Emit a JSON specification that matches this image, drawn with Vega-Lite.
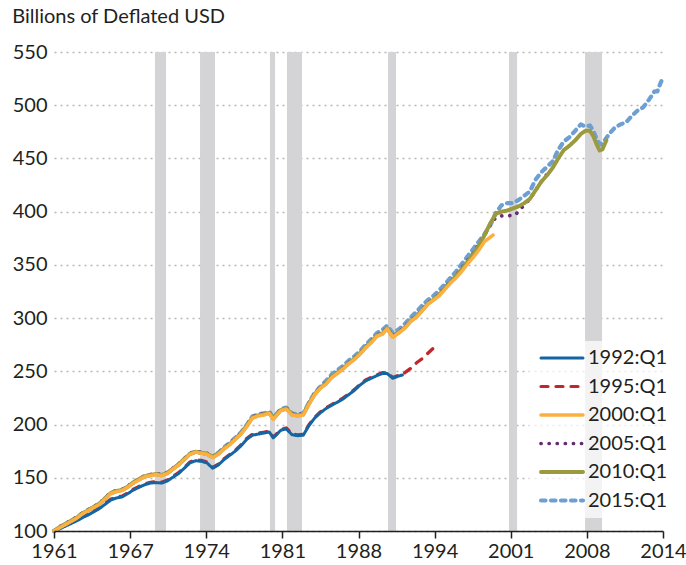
{
  "$schema": "https://vega.github.io/schema/vega-lite/v6.json",
  "width": 609,
  "height": 479,
  "autosize": "none",
  "padding": {"left": 54, "top": 52, "right": 23, "bottom": 34},
  "background": "white",
  "title": {"text": "Billions of Deflated USD", "anchor": "start", "frame": "bounds", "fontSize": 20, "fontWeight": "normal", "color": "#231f20", "offset": 15},
  "datasets": {
    "rec": [
      {"a": 1969.91, "b": 1970.89},
      {"a": 1973.89, "b": 1975.21},
      {"a": 1980.06, "b": 1980.51},
      {"a": 1981.56, "b": 1982.89},
      {"a": 1990.48, "b": 1991.19},
      {"a": 2001.16, "b": 2001.87},
      {"a": 2007.87, "b": 2009.37}
    ],
    "lines": [
      {"s":"1995:Q1","t":1961,"v":100},{"s":"1995:Q1","t":1961.5,"v":102.8},{"s":"1995:Q1","t":1962,"v":105.3},{"s":"1995:Q1","t":1962.5,"v":107.8},{"s":"1995:Q1","t":1963,"v":110.3},{"s":"1995:Q1","t":1963.5,"v":113.3},{"s":"1995:Q1","t":1964,"v":115.8},{"s":"1995:Q1","t":1964.5,"v":118.8},{"s":"1995:Q1","t":1965,"v":121.8},{"s":"1995:Q1","t":1965.5,"v":125.8},{"s":"1995:Q1","t":1966,"v":129.8},{"s":"1995:Q1","t":1966.5,"v":131.8},{"s":"1995:Q1","t":1967,"v":132.8},{"s":"1995:Q1","t":1967.5,"v":135.8},{"s":"1995:Q1","t":1968,"v":139.3},{"s":"1995:Q1","t":1968.5,"v":141.8},{"s":"1995:Q1","t":1969,"v":144.3},{"s":"1995:Q1","t":1969.5,"v":145.8},{"s":"1995:Q1","t":1970,"v":146.3},{"s":"1995:Q1","t":1970.5,"v":145.8},{"s":"1995:Q1","t":1971,"v":147.8},{"s":"1995:Q1","t":1971.5,"v":151.3},{"s":"1995:Q1","t":1972,"v":154.8},{"s":"1995:Q1","t":1972.5,"v":159.8},{"s":"1995:Q1","t":1973,"v":164.8},{"s":"1995:Q1","t":1973.5,"v":166.8},{"s":"1995:Q1","t":1974,"v":166.3},{"s":"1995:Q1","t":1974.5,"v":164.8},{"s":"1995:Q1","t":1975,"v":159.8},{"s":"1995:Q1","t":1975.5,"v":162.8},{"s":"1995:Q1","t":1976,"v":167.8},{"s":"1995:Q1","t":1976.5,"v":171.8},{"s":"1995:Q1","t":1977,"v":175.8},{"s":"1995:Q1","t":1977.5,"v":180.8},{"s":"1995:Q1","t":1978,"v":186.8},{"s":"1995:Q1","t":1978.5,"v":190.8},{"s":"1995:Q1","t":1979,"v":191.8},{"s":"1995:Q1","t":1979.5,"v":192.8},{"s":"1995:Q1","t":1980,"v":193.8},{"s":"1995:Q1","t":1980.35,"v":188.3},{"s":"1995:Q1","t":1980.6,"v":190.8},{"s":"1995:Q1","t":1981,"v":195.3},{"s":"1995:Q1","t":1981.5,"v":196.8},{"s":"1995:Q1","t":1982,"v":191.3},{"s":"1995:Q1","t":1982.5,"v":190.3},{"s":"1995:Q1","t":1983,"v":190.8},{"s":"1995:Q1","t":1983.5,"v":199.8},{"s":"1995:Q1","t":1984,"v":206.8},{"s":"1995:Q1","t":1984.5,"v":211.8},{"s":"1995:Q1","t":1985,"v":215.8},{"s":"1995:Q1","t":1985.5,"v":218.8},{"s":"1995:Q1","t":1986,"v":221.8},{"s":"1995:Q1","t":1986.5,"v":224.8},{"s":"1995:Q1","t":1987,"v":228.8},{"s":"1995:Q1","t":1987.5,"v":232.8},{"s":"1995:Q1","t":1988,"v":237.8},{"s":"1995:Q1","t":1988.5,"v":241.8},{"s":"1995:Q1","t":1989,"v":244.3},{"s":"1995:Q1","t":1989.5,"v":246.8},{"s":"1995:Q1","t":1990,"v":248.8},{"s":"1995:Q1","t":1990.4,"v":248.8},{"s":"1995:Q1","t":1990.9,"v":244.3},{"s":"1995:Q1","t":1991.4,"v":246.3},{"s":"1995:Q1","t":1991.75,"v":247.3},{"s":"1995:Q1","t":1992,"v":249},{"s":"1995:Q1","t":1992.5,"v":253},{"s":"1995:Q1","t":1993,"v":258},{"s":"1995:Q1","t":1993.5,"v":262},{"s":"1995:Q1","t":1994,"v":267},{"s":"1995:Q1","t":1994.5,"v":272},{"s":"1995:Q1","t":1994.75,"v":275},

      {"s":"1992:Q1","t":1961,"v":100},{"s":"1992:Q1","t":1961.5,"v":102},{"s":"1992:Q1","t":1962,"v":104.5},{"s":"1992:Q1","t":1962.5,"v":107},{"s":"1992:Q1","t":1963,"v":109.5},{"s":"1992:Q1","t":1963.5,"v":112.5},{"s":"1992:Q1","t":1964,"v":115},{"s":"1992:Q1","t":1964.5,"v":118},{"s":"1992:Q1","t":1965,"v":121},{"s":"1992:Q1","t":1965.5,"v":125},{"s":"1992:Q1","t":1966,"v":129},{"s":"1992:Q1","t":1966.5,"v":131},{"s":"1992:Q1","t":1967,"v":132},{"s":"1992:Q1","t":1967.5,"v":135},{"s":"1992:Q1","t":1968,"v":138.5},{"s":"1992:Q1","t":1968.5,"v":141},{"s":"1992:Q1","t":1969,"v":143.5},{"s":"1992:Q1","t":1969.5,"v":145},{"s":"1992:Q1","t":1970,"v":145.5},{"s":"1992:Q1","t":1970.5,"v":145},{"s":"1992:Q1","t":1971,"v":147},{"s":"1992:Q1","t":1971.5,"v":150.5},{"s":"1992:Q1","t":1972,"v":154},{"s":"1992:Q1","t":1972.5,"v":159},{"s":"1992:Q1","t":1973,"v":164},{"s":"1992:Q1","t":1973.5,"v":166},{"s":"1992:Q1","t":1974,"v":165.5},{"s":"1992:Q1","t":1974.5,"v":164},{"s":"1992:Q1","t":1975,"v":159},{"s":"1992:Q1","t":1975.5,"v":162},{"s":"1992:Q1","t":1976,"v":167},{"s":"1992:Q1","t":1976.5,"v":171},{"s":"1992:Q1","t":1977,"v":175},{"s":"1992:Q1","t":1977.5,"v":180},{"s":"1992:Q1","t":1978,"v":186},{"s":"1992:Q1","t":1978.5,"v":190},{"s":"1992:Q1","t":1979,"v":191},{"s":"1992:Q1","t":1979.5,"v":192},{"s":"1992:Q1","t":1980,"v":193},{"s":"1992:Q1","t":1980.35,"v":187.5},{"s":"1992:Q1","t":1980.6,"v":190},{"s":"1992:Q1","t":1981,"v":194.5},{"s":"1992:Q1","t":1981.5,"v":196},{"s":"1992:Q1","t":1982,"v":190.5},{"s":"1992:Q1","t":1982.5,"v":189.5},{"s":"1992:Q1","t":1983,"v":190},{"s":"1992:Q1","t":1983.5,"v":199},{"s":"1992:Q1","t":1984,"v":206},{"s":"1992:Q1","t":1984.5,"v":211},{"s":"1992:Q1","t":1985,"v":215},{"s":"1992:Q1","t":1985.5,"v":218},{"s":"1992:Q1","t":1986,"v":221},{"s":"1992:Q1","t":1986.5,"v":224},{"s":"1992:Q1","t":1987,"v":228},{"s":"1992:Q1","t":1987.5,"v":232},{"s":"1992:Q1","t":1988,"v":237},{"s":"1992:Q1","t":1988.5,"v":241},{"s":"1992:Q1","t":1989,"v":243.5},{"s":"1992:Q1","t":1989.5,"v":246},{"s":"1992:Q1","t":1990,"v":248},{"s":"1992:Q1","t":1990.4,"v":248},{"s":"1992:Q1","t":1990.9,"v":243.5},{"s":"1992:Q1","t":1991.4,"v":245.5},{"s":"1992:Q1","t":1991.75,"v":246.5},

      {"s":"2015:Q1","t":1961,"v":100},{"s":"2015:Q1","t":1961.5,"v":103.5},{"s":"2015:Q1","t":1962,"v":106.5},{"s":"2015:Q1","t":1962.5,"v":109.5},{"s":"2015:Q1","t":1963,"v":112.5},{"s":"2015:Q1","t":1963.5,"v":116.5},{"s":"2015:Q1","t":1964,"v":119.5},{"s":"2015:Q1","t":1964.5,"v":122.5},{"s":"2015:Q1","t":1965,"v":125.5},{"s":"2015:Q1","t":1965.5,"v":130.5},{"s":"2015:Q1","t":1966,"v":135.5},{"s":"2015:Q1","t":1966.5,"v":137.5},{"s":"2015:Q1","t":1967,"v":138.5},{"s":"2015:Q1","t":1967.5,"v":141.5},{"s":"2015:Q1","t":1968,"v":145.5},{"s":"2015:Q1","t":1968.5,"v":148.5},{"s":"2015:Q1","t":1969,"v":151.5},{"s":"2015:Q1","t":1969.5,"v":152.5},{"s":"2015:Q1","t":1970,"v":153.5},{"s":"2015:Q1","t":1970.5,"v":152.5},{"s":"2015:Q1","t":1971,"v":154.5},{"s":"2015:Q1","t":1971.5,"v":158.5},{"s":"2015:Q1","t":1972,"v":162.5},{"s":"2015:Q1","t":1972.5,"v":167.5},{"s":"2015:Q1","t":1973,"v":172.5},{"s":"2015:Q1","t":1973.5,"v":174.5},{"s":"2015:Q1","t":1974,"v":173.5},{"s":"2015:Q1","t":1974.5,"v":172.5},{"s":"2015:Q1","t":1975,"v":169.5},{"s":"2015:Q1","t":1975.5,"v":173.5},{"s":"2015:Q1","t":1976,"v":178.5},{"s":"2015:Q1","t":1976.5,"v":182.5},{"s":"2015:Q1","t":1977,"v":187.5},{"s":"2015:Q1","t":1977.5,"v":192.5},{"s":"2015:Q1","t":1978,"v":199.5},{"s":"2015:Q1","t":1978.5,"v":207.5},{"s":"2015:Q1","t":1979,"v":209.5},{"s":"2015:Q1","t":1979.5,"v":210.5},{"s":"2015:Q1","t":1980,"v":212},{"s":"2015:Q1","t":1980.35,"v":206.5},{"s":"2015:Q1","t":1980.6,"v":209.5},{"s":"2015:Q1","t":1981,"v":214.5},{"s":"2015:Q1","t":1981.5,"v":216},{"s":"2015:Q1","t":1982,"v":210.5},{"s":"2015:Q1","t":1982.5,"v":209.5},{"s":"2015:Q1","t":1983,"v":210.5},{"s":"2015:Q1","t":1983.5,"v":220.5},{"s":"2015:Q1","t":1984,"v":229.5},{"s":"2015:Q1","t":1984.5,"v":235.5},{"s":"2015:Q1","t":1985,"v":241},{"s":"2015:Q1","t":1985.5,"v":247},{"s":"2015:Q1","t":1986,"v":251},{"s":"2015:Q1","t":1986.5,"v":255},{"s":"2015:Q1","t":1987,"v":260},{"s":"2015:Q1","t":1987.5,"v":264},{"s":"2015:Q1","t":1988,"v":269},{"s":"2015:Q1","t":1988.5,"v":275},{"s":"2015:Q1","t":1989,"v":280},{"s":"2015:Q1","t":1989.5,"v":286},{"s":"2015:Q1","t":1990,"v":289},{"s":"2015:Q1","t":1990.4,"v":293},{"s":"2015:Q1","t":1990.9,"v":286},{"s":"2015:Q1","t":1991.5,"v":290},{"s":"2015:Q1","t":1992,"v":295},{"s":"2015:Q1","t":1992.5,"v":301},{"s":"2015:Q1","t":1993,"v":306},{"s":"2015:Q1","t":1993.5,"v":312},{"s":"2015:Q1","t":1994,"v":317},{"s":"2015:Q1","t":1994.5,"v":321},{"s":"2015:Q1","t":1995,"v":326},{"s":"2015:Q1","t":1995.5,"v":332},{"s":"2015:Q1","t":1996,"v":338},{"s":"2015:Q1","t":1996.5,"v":344},{"s":"2015:Q1","t":1997,"v":351},{"s":"2015:Q1","t":1997.5,"v":358},{"s":"2015:Q1","t":1998,"v":365},{"s":"2015:Q1","t":1998.5,"v":372},{"s":"2015:Q1","t":1999,"v":379},{"s":"2015:Q1","t":1999.5,"v":387},{"s":"2015:Q1","t":2000,"v":399},{"s":"2015:Q1","t":2000.5,"v":406},{"s":"2015:Q1","t":2001,"v":408},{"s":"2015:Q1","t":2001.5,"v":408},{"s":"2015:Q1","t":2002,"v":411},{"s":"2015:Q1","t":2002.5,"v":415},{"s":"2015:Q1","t":2003,"v":419},{"s":"2015:Q1","t":2003.5,"v":430},{"s":"2015:Q1","t":2004,"v":437},{"s":"2015:Q1","t":2004.5,"v":442},{"s":"2015:Q1","t":2005,"v":447},{"s":"2015:Q1","t":2005.5,"v":458},{"s":"2015:Q1","t":2006,"v":466},{"s":"2015:Q1","t":2006.5,"v":470},{"s":"2015:Q1","t":2007,"v":476},{"s":"2015:Q1","t":2007.5,"v":482},{"s":"2015:Q1","t":2007.9,"v":480},{"s":"2015:Q1","t":2008.3,"v":481},{"s":"2015:Q1","t":2008.6,"v":476},{"s":"2015:Q1","t":2008.9,"v":468},{"s":"2015:Q1","t":2009.2,"v":463},{"s":"2015:Q1","t":2009.6,"v":467},{"s":"2015:Q1","t":2010,"v":473},{"s":"2015:Q1","t":2010.5,"v":479},{"s":"2015:Q1","t":2011,"v":482},{"s":"2015:Q1","t":2011.5,"v":484},{"s":"2015:Q1","t":2012,"v":490},{"s":"2015:Q1","t":2012.5,"v":495},{"s":"2015:Q1","t":2013,"v":498},{"s":"2015:Q1","t":2013.5,"v":505},{"s":"2015:Q1","t":2014,"v":513},{"s":"2015:Q1","t":2014.25,"v":513},{"s":"2015:Q1","t":2014.5,"v":520},{"s":"2015:Q1","t":2014.75,"v":526},

      {"s":"2005:Q1","t":1961,"v":100},{"s":"2005:Q1","t":1961.5,"v":104},{"s":"2005:Q1","t":1962,"v":107},{"s":"2005:Q1","t":1962.5,"v":110},{"s":"2005:Q1","t":1963,"v":113},{"s":"2005:Q1","t":1963.5,"v":117},{"s":"2005:Q1","t":1964,"v":120},{"s":"2005:Q1","t":1964.5,"v":123},{"s":"2005:Q1","t":1965,"v":126},{"s":"2005:Q1","t":1965.5,"v":131},{"s":"2005:Q1","t":1966,"v":136},{"s":"2005:Q1","t":1966.5,"v":138},{"s":"2005:Q1","t":1967,"v":139},{"s":"2005:Q1","t":1967.5,"v":142},{"s":"2005:Q1","t":1968,"v":146},{"s":"2005:Q1","t":1968.5,"v":149},{"s":"2005:Q1","t":1969,"v":152},{"s":"2005:Q1","t":1969.5,"v":153},{"s":"2005:Q1","t":1970,"v":154},{"s":"2005:Q1","t":1970.5,"v":153},{"s":"2005:Q1","t":1971,"v":155},{"s":"2005:Q1","t":1971.5,"v":159},{"s":"2005:Q1","t":1972,"v":163},{"s":"2005:Q1","t":1972.5,"v":168},{"s":"2005:Q1","t":1973,"v":173},{"s":"2005:Q1","t":1973.5,"v":175},{"s":"2005:Q1","t":1974,"v":174},{"s":"2005:Q1","t":1974.5,"v":173},{"s":"2005:Q1","t":1975,"v":170},{"s":"2005:Q1","t":1975.5,"v":173},{"s":"2005:Q1","t":1976,"v":178},{"s":"2005:Q1","t":1976.5,"v":182},{"s":"2005:Q1","t":1977,"v":187},{"s":"2005:Q1","t":1977.5,"v":192},{"s":"2005:Q1","t":1978,"v":199},{"s":"2005:Q1","t":1978.5,"v":207},{"s":"2005:Q1","t":1979,"v":209},{"s":"2005:Q1","t":1979.5,"v":210},{"s":"2005:Q1","t":1980,"v":211.5},{"s":"2005:Q1","t":1980.35,"v":206},{"s":"2005:Q1","t":1980.6,"v":209},{"s":"2005:Q1","t":1981,"v":214},{"s":"2005:Q1","t":1981.5,"v":215.5},{"s":"2005:Q1","t":1982,"v":210},{"s":"2005:Q1","t":1982.5,"v":209},{"s":"2005:Q1","t":1983,"v":210},{"s":"2005:Q1","t":1983.5,"v":220},{"s":"2005:Q1","t":1984,"v":229},{"s":"2005:Q1","t":1984.5,"v":235},{"s":"2005:Q1","t":1985,"v":239},{"s":"2005:Q1","t":1985.5,"v":245},{"s":"2005:Q1","t":1986,"v":249},{"s":"2005:Q1","t":1986.5,"v":253},{"s":"2005:Q1","t":1987,"v":258},{"s":"2005:Q1","t":1987.5,"v":262},{"s":"2005:Q1","t":1988,"v":267},{"s":"2005:Q1","t":1988.5,"v":273},{"s":"2005:Q1","t":1989,"v":278},{"s":"2005:Q1","t":1989.5,"v":284},{"s":"2005:Q1","t":1990,"v":286},{"s":"2005:Q1","t":1990.4,"v":291},{"s":"2005:Q1","t":1990.9,"v":283},{"s":"2005:Q1","t":1991.5,"v":287.5},{"s":"2005:Q1","t":1992,"v":292},{"s":"2005:Q1","t":1992.5,"v":298},{"s":"2005:Q1","t":1993,"v":302},{"s":"2005:Q1","t":1993.5,"v":308},{"s":"2005:Q1","t":1994,"v":314},{"s":"2005:Q1","t":1994.5,"v":318},{"s":"2005:Q1","t":1995,"v":322},{"s":"2005:Q1","t":1995.5,"v":329},{"s":"2005:Q1","t":1996,"v":334.5},{"s":"2005:Q1","t":1996.5,"v":340},{"s":"2005:Q1","t":1997,"v":347},{"s":"2005:Q1","t":1997.5,"v":354},{"s":"2005:Q1","t":1998,"v":361},{"s":"2005:Q1","t":1998.5,"v":369},{"s":"2005:Q1","t":1999,"v":378},{"s":"2005:Q1","t":1999.5,"v":388},{"s":"2005:Q1","t":2000,"v":394.5},{"s":"2005:Q1","t":2000.5,"v":396},{"s":"2005:Q1","t":2001,"v":396.5},{"s":"2005:Q1","t":2001.5,"v":396},{"s":"2005:Q1","t":2001.75,"v":397},{"s":"2005:Q1","t":2002,"v":401},{"s":"2005:Q1","t":2002.5,"v":406},{"s":"2005:Q1","t":2003,"v":412},{"s":"2005:Q1","t":2003.5,"v":420},{"s":"2005:Q1","t":2004,"v":428},{"s":"2005:Q1","t":2004.5,"v":435},{"s":"2005:Q1","t":2004.75,"v":439},

      {"s":"2010:Q1","t":1961,"v":100},{"s":"2010:Q1","t":1961.5,"v":103.5},{"s":"2010:Q1","t":1962,"v":106.5},{"s":"2010:Q1","t":1962.5,"v":109.5},{"s":"2010:Q1","t":1963,"v":112.5},{"s":"2010:Q1","t":1963.5,"v":116.5},{"s":"2010:Q1","t":1964,"v":119.5},{"s":"2010:Q1","t":1964.5,"v":122.5},{"s":"2010:Q1","t":1965,"v":125.5},{"s":"2010:Q1","t":1965.5,"v":130.5},{"s":"2010:Q1","t":1966,"v":135.5},{"s":"2010:Q1","t":1966.5,"v":137.5},{"s":"2010:Q1","t":1967,"v":138.5},{"s":"2010:Q1","t":1967.5,"v":141.5},{"s":"2010:Q1","t":1968,"v":145.5},{"s":"2010:Q1","t":1968.5,"v":148.5},{"s":"2010:Q1","t":1969,"v":151.5},{"s":"2010:Q1","t":1969.5,"v":152.5},{"s":"2010:Q1","t":1970,"v":153.5},{"s":"2010:Q1","t":1970.5,"v":152.5},{"s":"2010:Q1","t":1971,"v":154.5},{"s":"2010:Q1","t":1971.5,"v":158.5},{"s":"2010:Q1","t":1972,"v":162.5},{"s":"2010:Q1","t":1972.5,"v":167.5},{"s":"2010:Q1","t":1973,"v":172.5},{"s":"2010:Q1","t":1973.5,"v":174.5},{"s":"2010:Q1","t":1974,"v":173.5},{"s":"2010:Q1","t":1974.5,"v":172.5},{"s":"2010:Q1","t":1975,"v":169.5},{"s":"2010:Q1","t":1975.5,"v":172.5},{"s":"2010:Q1","t":1976,"v":177.5},{"s":"2010:Q1","t":1976.5,"v":181.5},{"s":"2010:Q1","t":1977,"v":186.5},{"s":"2010:Q1","t":1977.5,"v":191.5},{"s":"2010:Q1","t":1978,"v":198.5},{"s":"2010:Q1","t":1978.5,"v":206.5},{"s":"2010:Q1","t":1979,"v":208.5},{"s":"2010:Q1","t":1979.5,"v":209.5},{"s":"2010:Q1","t":1980,"v":211},{"s":"2010:Q1","t":1980.35,"v":205.5},{"s":"2010:Q1","t":1980.6,"v":208.5},{"s":"2010:Q1","t":1981,"v":213.5},{"s":"2010:Q1","t":1981.5,"v":215},{"s":"2010:Q1","t":1982,"v":209.5},{"s":"2010:Q1","t":1982.5,"v":208.5},{"s":"2010:Q1","t":1983,"v":209.5},{"s":"2010:Q1","t":1983.5,"v":219.5},{"s":"2010:Q1","t":1984,"v":228.5},{"s":"2010:Q1","t":1984.5,"v":234.5},{"s":"2010:Q1","t":1985,"v":238.5},{"s":"2010:Q1","t":1985.5,"v":244.5},{"s":"2010:Q1","t":1986,"v":248.5},{"s":"2010:Q1","t":1986.5,"v":252.5},{"s":"2010:Q1","t":1987,"v":257.5},{"s":"2010:Q1","t":1987.5,"v":261.5},{"s":"2010:Q1","t":1988,"v":266.5},{"s":"2010:Q1","t":1988.5,"v":272.5},{"s":"2010:Q1","t":1989,"v":277.5},{"s":"2010:Q1","t":1989.5,"v":283.5},{"s":"2010:Q1","t":1990,"v":285.5},{"s":"2010:Q1","t":1990.4,"v":290.5},{"s":"2010:Q1","t":1990.9,"v":282.5},{"s":"2010:Q1","t":1991.5,"v":287},{"s":"2010:Q1","t":1992,"v":291.5},{"s":"2010:Q1","t":1992.5,"v":297.5},{"s":"2010:Q1","t":1993,"v":301.5},{"s":"2010:Q1","t":1993.5,"v":307.5},{"s":"2010:Q1","t":1994,"v":313.5},{"s":"2010:Q1","t":1994.5,"v":317.5},{"s":"2010:Q1","t":1995,"v":322},{"s":"2010:Q1","t":1995.5,"v":328},{"s":"2010:Q1","t":1996,"v":334},{"s":"2010:Q1","t":1996.5,"v":340},{"s":"2010:Q1","t":1997,"v":346},{"s":"2010:Q1","t":1997.5,"v":353},{"s":"2010:Q1","t":1998,"v":360},{"s":"2010:Q1","t":1998.5,"v":368},{"s":"2010:Q1","t":1999,"v":378},{"s":"2010:Q1","t":1999.5,"v":389},{"s":"2010:Q1","t":2000,"v":398},{"s":"2010:Q1","t":2000.5,"v":400},{"s":"2010:Q1","t":2001,"v":401},{"s":"2010:Q1","t":2001.5,"v":403},{"s":"2010:Q1","t":2002,"v":405},{"s":"2010:Q1","t":2002.5,"v":408},{"s":"2010:Q1","t":2003,"v":412},{"s":"2010:Q1","t":2003.5,"v":420},{"s":"2010:Q1","t":2004,"v":428},{"s":"2010:Q1","t":2004.5,"v":434},{"s":"2010:Q1","t":2005,"v":441},{"s":"2010:Q1","t":2005.5,"v":450},{"s":"2010:Q1","t":2006,"v":458},{"s":"2010:Q1","t":2006.5,"v":462},{"s":"2010:Q1","t":2007,"v":467},{"s":"2010:Q1","t":2007.5,"v":473},{"s":"2010:Q1","t":2007.9,"v":476},{"s":"2010:Q1","t":2008.3,"v":476},{"s":"2010:Q1","t":2008.6,"v":471},{"s":"2010:Q1","t":2008.9,"v":463},{"s":"2010:Q1","t":2009.15,"v":457.5},{"s":"2010:Q1","t":2009.4,"v":458.5},{"s":"2010:Q1","t":2009.75,"v":467},

      {"s":"2000:Q1","t":1961,"v":100},{"s":"2000:Q1","t":1961.5,"v":103},{"s":"2000:Q1","t":1962,"v":106},{"s":"2000:Q1","t":1962.5,"v":109},{"s":"2000:Q1","t":1963,"v":112},{"s":"2000:Q1","t":1963.5,"v":116},{"s":"2000:Q1","t":1964,"v":119},{"s":"2000:Q1","t":1964.5,"v":122},{"s":"2000:Q1","t":1965,"v":125},{"s":"2000:Q1","t":1965.5,"v":130},{"s":"2000:Q1","t":1966,"v":135},{"s":"2000:Q1","t":1966.5,"v":137},{"s":"2000:Q1","t":1967,"v":138},{"s":"2000:Q1","t":1967.5,"v":141},{"s":"2000:Q1","t":1968,"v":145},{"s":"2000:Q1","t":1968.5,"v":148},{"s":"2000:Q1","t":1969,"v":151},{"s":"2000:Q1","t":1969.5,"v":152},{"s":"2000:Q1","t":1970,"v":153},{"s":"2000:Q1","t":1970.5,"v":152},{"s":"2000:Q1","t":1971,"v":154},{"s":"2000:Q1","t":1971.5,"v":158},{"s":"2000:Q1","t":1972,"v":162},{"s":"2000:Q1","t":1972.5,"v":167},{"s":"2000:Q1","t":1973,"v":172},{"s":"2000:Q1","t":1973.5,"v":174},{"s":"2000:Q1","t":1974,"v":173},{"s":"2000:Q1","t":1974.5,"v":172},{"s":"2000:Q1","t":1975,"v":169},{"s":"2000:Q1","t":1975.5,"v":172},{"s":"2000:Q1","t":1976,"v":177},{"s":"2000:Q1","t":1976.5,"v":181},{"s":"2000:Q1","t":1977,"v":186},{"s":"2000:Q1","t":1977.5,"v":191},{"s":"2000:Q1","t":1978,"v":198},{"s":"2000:Q1","t":1978.5,"v":206},{"s":"2000:Q1","t":1979,"v":208},{"s":"2000:Q1","t":1979.5,"v":209},{"s":"2000:Q1","t":1980,"v":210.5},{"s":"2000:Q1","t":1980.35,"v":205},{"s":"2000:Q1","t":1980.6,"v":208},{"s":"2000:Q1","t":1981,"v":213},{"s":"2000:Q1","t":1981.5,"v":214.5},{"s":"2000:Q1","t":1982,"v":209},{"s":"2000:Q1","t":1982.5,"v":208},{"s":"2000:Q1","t":1983,"v":209},{"s":"2000:Q1","t":1983.5,"v":219},{"s":"2000:Q1","t":1984,"v":228},{"s":"2000:Q1","t":1984.5,"v":234},{"s":"2000:Q1","t":1985,"v":238},{"s":"2000:Q1","t":1985.5,"v":244},{"s":"2000:Q1","t":1986,"v":248},{"s":"2000:Q1","t":1986.5,"v":252},{"s":"2000:Q1","t":1987,"v":257},{"s":"2000:Q1","t":1987.5,"v":261},{"s":"2000:Q1","t":1988,"v":266},{"s":"2000:Q1","t":1988.5,"v":272},{"s":"2000:Q1","t":1989,"v":277},{"s":"2000:Q1","t":1989.5,"v":283},{"s":"2000:Q1","t":1990,"v":285},{"s":"2000:Q1","t":1990.4,"v":290},{"s":"2000:Q1","t":1990.9,"v":282},{"s":"2000:Q1","t":1991.5,"v":286.5},{"s":"2000:Q1","t":1992,"v":291},{"s":"2000:Q1","t":1992.5,"v":297},{"s":"2000:Q1","t":1993,"v":301},{"s":"2000:Q1","t":1993.5,"v":307},{"s":"2000:Q1","t":1994,"v":313},{"s":"2000:Q1","t":1994.5,"v":317},{"s":"2000:Q1","t":1995,"v":321},{"s":"2000:Q1","t":1995.5,"v":327},{"s":"2000:Q1","t":1996,"v":333},{"s":"2000:Q1","t":1996.5,"v":338},{"s":"2000:Q1","t":1997,"v":344},{"s":"2000:Q1","t":1997.5,"v":351},{"s":"2000:Q1","t":1998,"v":357},{"s":"2000:Q1","t":1998.5,"v":364},{"s":"2000:Q1","t":1999,"v":372},{"s":"2000:Q1","t":1999.5,"v":376},{"s":"2000:Q1","t":1999.75,"v":378}
    ]
  },
  "layer": [
    {
      "data": {"name": "rec"},
      "mark": {"type": "rect", "fill": "#d4d4d6", "opacity": 1},
      "encoding": {
        "x": {"field": "a", "type": "quantitative", "scale": {"domain": [1961, 2014.75], "nice": false, "zero": false},
          "axis": {"title": null, "values": [1961, 1967.71875, 1974.4375, 1981.15625, 1987.875, 1994.59375, 2001.3125, 2008.03125, 2014.75],
            "labelExpr": "['1961','1967','1974','1981','1988','1994','2001','2008','2014'][round((datum.value-1961)/6.71875)]",
            "grid": false, "domainColor": "#231f20", "domainWidth": 1.5, "tickColor": "#231f20", "tickWidth": 1.5, "tickSize": 7,
            "labelFontSize": 20, "labelColor": "#231f20", "labelPadding": 3, "labelFlush": false, "labelOverlap": false, "zindex": 1}},
        "x2": {"field": "b"},
        "y": {"datum": 550, "type": "quantitative", "scale": {"domain": [100, 550], "nice": false, "zero": false},
          "axis": {"title": null, "values": [100, 150, 200, 250, 300, 350, 400, 450, 500, 550], "domain": false, "ticks": false,
            "grid": true, "gridDash": [2, 4], "gridColor": "#b8b8b8", "gridWidth": 1.3,
            "labelFontSize": 20, "labelColor": "#231f20", "labelPadding": 7}},
        "y2": {"datum": 100}
      }
    },
    {
      "data": {"name": "lines"},
      "transform": [{"filter": "datum.s == '1995:Q1'"}],
      "mark": {"type": "line", "strokeCap": "round", "strokeJoin": "round"},
      "encoding": {
        "x": {"field": "t", "type": "quantitative"},
        "y": {"field": "v", "type": "quantitative"},
        "color": {"field": "s", "type": "nominal", "scale": {"domain": ["1992:Q1","1995:Q1","2000:Q1","2005:Q1","2010:Q1","2015:Q1"], "range": ["#1465a3","#c0272d","#fbb040","#662d71","#9b9a3e","#6e9fd3"]},
          "legend": {"title": null, "encode": {"symbols": {"update": {"strokeCap": {"value": "round"}}}}}},
        "strokeDash": {"field": "s", "type": "nominal", "scale": {"domain": ["1992:Q1","1995:Q1","2000:Q1","2005:Q1","2010:Q1","2015:Q1"], "range": [[1,0],[7,8],[1,0],[0.1,8],[1,0],[4.5,5.5]]}, "legend": {"title": null}},
        "strokeWidth": {"field": "s", "type": "nominal", "scale": {"domain": ["1992:Q1","1995:Q1","2000:Q1","2005:Q1","2010:Q1","2015:Q1"], "range": [3, 4.2, 3, 5.5, 5.5, 3]}, "legend": {"title": null}}
      }
    },
    {"data": {"name": "lines"}, "transform": [{"filter": "datum.s == '1992:Q1'"}], "mark": {"type": "line", "strokeCap": "round", "strokeJoin": "round"}, "encoding": {"x": {"field": "t", "type": "quantitative"}, "y": {"field": "v", "type": "quantitative"}, "color": {"field": "s", "type": "nominal"}, "strokeDash": {"field": "s", "type": "nominal"}, "strokeWidth": {"field": "s", "type": "nominal"}}},
    {"data": {"name": "lines"}, "transform": [{"filter": "datum.s == '2015:Q1'"}], "mark": {"type": "line", "strokeCap": "round", "strokeJoin": "round"}, "encoding": {"x": {"field": "t", "type": "quantitative"}, "y": {"field": "v", "type": "quantitative"}, "color": {"field": "s", "type": "nominal"}, "strokeDash": {"field": "s", "type": "nominal"}, "strokeWidth": {"field": "s", "type": "nominal"}}},
    {"data": {"name": "lines"}, "transform": [{"filter": "datum.s == '2005:Q1'"}], "mark": {"type": "line", "strokeCap": "round", "strokeJoin": "round"}, "encoding": {"x": {"field": "t", "type": "quantitative"}, "y": {"field": "v", "type": "quantitative"}, "color": {"field": "s", "type": "nominal"}, "strokeDash": {"field": "s", "type": "nominal"}, "strokeWidth": {"field": "s", "type": "nominal"}}},
    {"data": {"name": "lines"}, "transform": [{"filter": "datum.s == '2010:Q1'"}], "mark": {"type": "line", "strokeCap": "round", "strokeJoin": "round"}, "encoding": {"x": {"field": "t", "type": "quantitative"}, "y": {"field": "v", "type": "quantitative"}, "color": {"field": "s", "type": "nominal"}, "strokeDash": {"field": "s", "type": "nominal"}, "strokeWidth": {"field": "s", "type": "nominal"}}},
    {"data": {"name": "lines"}, "transform": [{"filter": "datum.s == '2000:Q1'"}], "mark": {"type": "line", "strokeCap": "round", "strokeJoin": "round"}, "encoding": {"x": {"field": "t", "type": "quantitative"}, "y": {"field": "v", "type": "quantitative"}, "color": {"field": "s", "type": "nominal"}, "strokeDash": {"field": "s", "type": "nominal"}, "strokeWidth": {"field": "s", "type": "nominal"}}}
  ],
  "resolve": {"scale": {"color": "shared", "strokeDash": "shared", "strokeWidth": "shared"}},
  "config": {
    "view": {"stroke": null},
    "font": "Lato",
    "legend": {
      "orient": "none", "legendX": 475, "legendY": 289,
      "fillColor": "rgba(255,255,255,0.72)", "padding": 7,
      "symbolType": "M-4.2,0H4.2", "symbolSize": 100, "symbolOffset": 16, "labelOffset": 16,
      "labelFontSize": 20, "labelColor": "#231f20", "rowPadding": 8.5
    }
  }
}
